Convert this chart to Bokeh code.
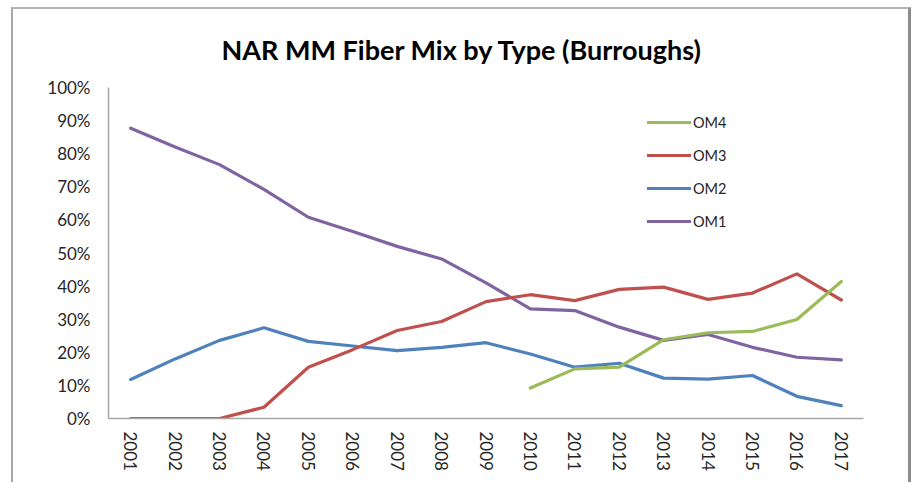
from bokeh.plotting import figure
from bokeh.models import (FactorRange, Range1d, FixedTicker, NumeralTickFormatter,
                          Legend, LegendItem)
from bokeh.embed import file_html
from bokeh.resources import INLINE

NAN = float("nan")

years = [str(y) for y in range(2001, 2018)]
om1 = [0.877, 0.820, 0.767, 0.692, 0.608, 0.565, 0.520, 0.482, 0.410,
       0.331, 0.326, 0.276, 0.236, 0.254, 0.215, 0.185, 0.177]
om2 = [0.118, 0.180, 0.236, 0.274, 0.233, 0.219, 0.205, 0.215, 0.229,
       0.195, 0.155, 0.167, 0.122, 0.119, 0.130, 0.067, 0.039]
om3 = [0.000, 0.000, 0.000, 0.034, 0.155, 0.208, 0.266, 0.293, 0.353,
       0.374, 0.356, 0.390, 0.397, 0.360, 0.379, 0.437, 0.358]
om4 = [NAN, NAN, NAN, NAN, NAN, NAN, NAN, NAN, NAN,
       0.092, 0.150, 0.155, 0.238, 0.259, 0.263, 0.299, 0.414]
series_names = ["OM4", "OM3", "OM2", "OM1"]
y_ticks = [0.0, 0.1, 0.2, 0.3, 0.4, 0.5, 0.6, 0.7, 0.8, 0.9, 1.0]

colors = {"OM1": "#8064A2", "OM2": "#4F81BD", "OM3": "#C0504D", "OM4": "#9BBB59"}
FONT = "Lato"
TXT = "#262626"

p = figure(width=900, height=475, x_range=FactorRange(*years), y_range=Range1d(0, 1),
           output_backend="svg", toolbar_location=None,
           min_border_left=95, min_border_right=50, min_border_top=78, min_border_bottom=66)
p.margin = (7, 0, 0, 11)
p.styles = {"border-top": "2px solid #b4b4b4", "border-left": "2px solid #a8a8a8",
            "border-right": "3px solid #8c8c8c"}

p.title.text = "NAR MM Fiber Mix by Type (Burroughs)"
p.title.align = "left"
p.title.offset = 113
p.title.standoff = 43
p.title.text_font = FONT
p.title.text_font_size = "27px"
p.title.text_font_style = "bold"
p.title.text_color = "black"

p.outline_line_color = None
p.xgrid.visible = False
p.ygrid.visible = False
p.background_fill_color = "white"
p.border_fill_color = "white"

axis_col = "#a6a6a6"
for ax in (p.xaxis[0], p.yaxis[0]):
    ax.axis_line_color = axis_col
    ax.axis_line_width = 1.5
    ax.major_tick_out = 0
    ax.major_tick_in = 0
    ax.minor_tick_out = 0
    ax.minor_tick_in = 0
    ax.major_label_text_font = FONT
    ax.major_label_text_font_size = "17px"
    ax.major_label_text_color = TXT

p.yaxis[0].ticker = FixedTicker(ticks=y_ticks)
p.yaxis[0].formatter = NumeralTickFormatter(format="0%")
p.yaxis[0].major_label_standoff = 18
p.xaxis[0].major_label_orientation = "vertical"
p.xaxis[0].major_label_standoff = 13

data = {"OM1": om1, "OM2": om2, "OM3": om3, "OM4": om4}
renderers = {}
for name in ["OM1", "OM2", "OM3", "OM4"]:
    renderers[name] = p.line(years, data[name], line_color=colors[name], line_width=3.2,
                             line_join="round", line_cap="round")

legend = Legend(items=[LegendItem(label=n, renderers=[renderers[n]]) for n in series_names],
                location=(539, 187), orientation="vertical",
                glyph_width=44, glyph_height=20, label_height=20, spacing=13,
                label_standoff=2, padding=0, margin=0,
                label_text_font=FONT, label_text_font_size="14.5px", label_text_color=TXT,
                background_fill_alpha=0, border_line_color=None)
p.add_layout(legend)

open("out.html", "w").write(file_html(p, INLINE))
